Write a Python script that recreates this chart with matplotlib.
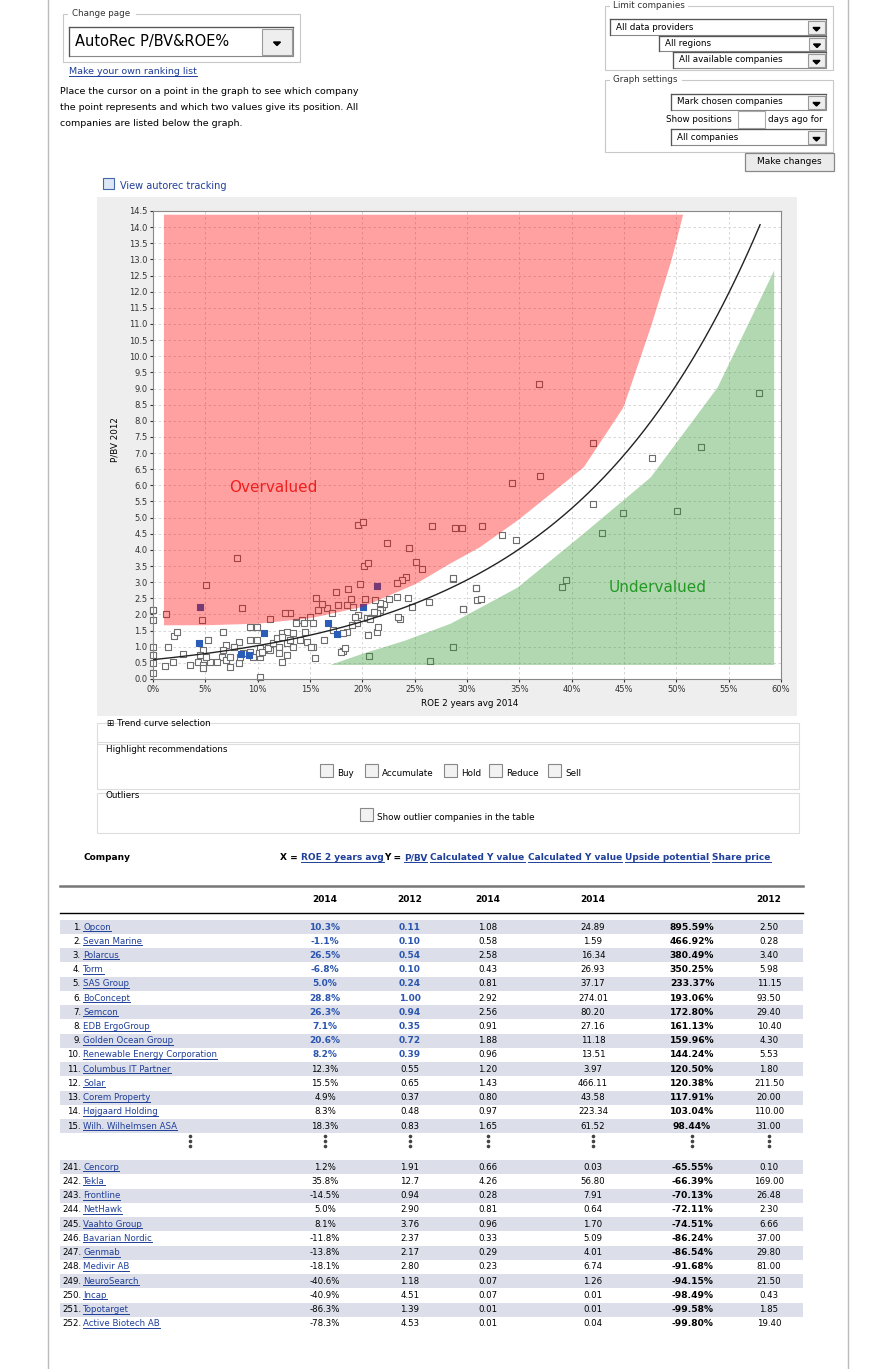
import numpy as np
import matplotlib
matplotlib.use("Agg")
import matplotlib.pyplot as plt
from matplotlib.patches import Rectangle, Polygon

# ---------------- data ----------------
gray_x = [21.9,21.7,21.4,21.1,20.4,20.7,19.6,19.3,19.5,19.0,18.5,18.2,17.2,16.3,15.8,16.6,17.1,17.7,18.5,19.1,
          15.0,15.3,14.5,14.2,13.7,13.1,12.6,11.2,12.3,12.8,13.4,14.0,14.7,15.3,13.4,12.8,12.0,12.0,12.8,11.2,
          10.5,10.2,9.9,9.3,9.6,9.3,9.9,8.2,7.7,7.0,6.7,6.6,6.1,5.4,4.8,4.5,4.3,4.8,4.8,5.1,7.0,7.4,8.2,8.3,8.6,
          9.3,9.6,10.2,10.1,10.4,11.0,11.5,7.4,3.5,2.9,1.9,1.4,2.0,2.3,1.1,5.3,6.7,15.1,15.5,18.2,18.0,18.3,20.6,
          20.5,21.4,21.5,23.6,23.4,22.1,21.7,21.2,20.3,10.2,12.3,0.0,0.0,0.0,0.0,0.0,0.0,13.7,14.4,11.8,12.3,13.1,
          19.6,20.1,26.7,22.4,24.5,25.1,25.7,20.2,20.5,8.0,5.1,8.5,1.2,4.7,19.8,18.6,17.5,15.6,16.1,18.9,24.2,23.8,
          23.3,23.3,24.4,22.5,28.7,26.4,24.7,29.6,30.9,31.0,36.9,42.0,37.0,34.3,28.9,29.5,31.4,33.3,34.7,42.0,47.7,
          52.4,57.9,44.9,50.1,42.9,39.5,39.1,28.7,30.9,31.3,29.6,28.7,26.5,0.0]
gray_y = [2.24,2.14,2.03,2.09,1.88,1.85,1.98,1.93,1.72,1.67,1.47,1.42,1.52,1.21,2.14,2.19,2.03,2.29,2.29,2.24,
          1.93,1.72,1.47,1.83,1.78,2.03,2.03,1.85,1.42,1.47,1.42,1.21,1.16,1.00,1.00,1.11,1.00,0.80,0.74,0.90,
          0.90,0.95,1.21,1.21,1.62,1.62,1.62,1.16,1.00,1.05,0.90,0.69,0.54,0.54,0.90,0.74,0.54,0.43,0.33,0.69,0.59,
          0.69,0.49,0.69,0.80,0.85,0.69,0.69,0.80,0.85,0.95,1.11,0.38,0.43,0.77,0.52,0.98,1.34,1.45,0.40,1.21,1.47,
          0.98,0.64,0.88,0.85,0.95,0.71,1.36,1.47,1.62,1.86,1.93,2.32,2.34,2.45,2.47,0.07,0.52,2.14,1.83,1.00,0.74,
          0.49,0.18,1.72,1.72,1.26,1.31,1.21,
          4.77,4.86,4.74,4.21,4.07,3.63,3.40,3.50,3.60,3.75,2.91,2.20,2.00,1.83,2.94,2.79,2.70,2.50,2.32,2.48,3.16,
          3.07,2.97,2.54,2.51,2.48,3.10,2.39,2.23,2.17,2.82,2.45,9.14,7.30,6.29,6.07,4.68,4.68,4.74,4.46,4.30,5.42,
          6.85,7.19,8.86,5.14,5.20,4.52,3.07,2.85,3.13,2.82,2.48,2.17,0.99,0.55,2.15]
blue_x = [4.4, 8.4, 9.2, 10.6, 16.7, 17.6, 20.1, 4.5, 21.4]
blue_y = [1.10, 0.78, 0.74, 1.42, 1.73, 1.39, 2.23, 2.23, 2.88]

trend_a, trend_b = 0.6, 0.0544
red_bx = [1, 5, 10, 15, 20, 25, 28.4, 31.2, 34.8, 41.1, 44.9, 47.5, 49.5, 50.6]
red_by = [1.68, 1.68, 1.73, 1.9, 2.25, 2.95, 3.6, 4.1, 4.93, 6.57, 8.43, 10.9, 13.0, 14.4]
green_bx = [16.9, 20, 24, 28.4, 34.8, 41.1, 47.5, 53.9, 59.3]
green_by = [0.45, 0.8, 1.2, 1.73, 2.85, 4.52, 6.26, 9.05, 12.67]

top_rank = list(range(1, 16))
top_name = ["Opcon","Sevan Marine","Polarcus","Torm","SAS Group","BoConcept","Semcon","EDB ErgoGroup",
            "Golden Ocean Group","Renewable Energy Corporation","Columbus IT Partner","Solar","Corem Property",
            "Højgaard Holding","Wilh. Wilhelmsen ASA"]
top_x = ["10.3%","-1.1%","26.5%","-6.8%","5.0%","28.8%","26.3%","7.1%","20.6%","8.2%","12.3%","15.5%","4.9%","8.3%","18.3%"]
top_y = ["0.11","0.10","0.54","0.10","0.24","1.00","0.94","0.35","0.72","0.39","0.55","0.65","0.37","0.48","0.83"]
top_c1 = ["1.08","0.58","2.58","0.43","0.81","2.92","2.56","0.91","1.88","0.96","1.20","1.43","0.80","0.97","1.65"]
top_c2 = ["24.89","1.59","16.34","26.93","37.17","274.01","80.20","27.16","11.18","13.51","3.97","466.11","43.58","223.34","61.52"]
top_up = ["895.59%","466.92%","380.49%","350.25%","233.37%","193.06%","172.80%","161.13%","159.96%","144.24%",
          "120.50%","120.38%","117.91%","103.04%","98.44%"]
top_pr = ["2.50","0.28","3.40","5.98","11.15","93.50","29.40","10.40","4.30","5.53","1.80","211.50","20.00","110.00","31.00"]

bot_rank = list(range(241, 253))
bot_name = ["Cencorp","Tekla","Frontline","NetHawk","Vaahto Group","Bavarian Nordic","Genmab","Medivir AB",
            "NeuroSearch","Incap","Topotarget","Active Biotech AB"]
bot_x = ["1.2%","35.8%","-14.5%","5.0%","8.1%","-11.8%","-13.8%","-18.1%","-40.6%","-40.9%","-86.3%","-78.3%"]
bot_y = ["1.91","12.7","0.94","2.90","3.76","2.37","2.17","2.80","1.18","4.51","1.39","4.53"]
bot_c1 = ["0.66","4.26","0.28","0.81","0.96","0.33","0.29","0.23","0.07","0.07","0.01","0.01"]
bot_c2 = ["0.03","56.80","7.91","0.64","1.70","5.09","4.01","6.74","1.26","0.01","0.01","0.04"]
bot_up = ["-65.55%","-66.39%","-70.13%","-72.11%","-74.51%","-86.24%","-86.54%","-91.68%","-94.15%","-98.49%","-99.58%","-99.80%"]
bot_pr = ["0.10","169.00","26.48","2.30","6.66","37.00","29.80","81.00","21.50","0.43","1.85","19.40"]

# ---------------- figure ----------------
W, H = 896, 1369
fig = plt.figure(figsize=(W/100, H/100), dpi=100)
fig.patch.set_facecolor("white")
ov = fig.add_axes([0, 0, 1, 1])
ov.set_xlim(0, W); ov.set_ylim(H, 0); ov.axis("off")

FONT = "DejaVu Sans"
LINK = "#1f3f99"
under = []

def T(x, y, s, size=6.5, color="black", ha="left", va="center", bold=False, link=False, **kw):
    t = ov.text(x, y, s, fontsize=size, color=color, ha=ha, va=va,
                fontweight="bold" if bold else "normal", family=FONT, **kw)
    if link:
        under.append((t, color))
    return t

def box(x0, y0, x1, y1, ec="#c8c8c8", fc="none", lw=0.8, z=1):
    ov.add_patch(Rectangle((x0, y0), x1-x0, y1-y0, ec=ec, fc=fc, lw=lw, zorder=z))

def dropdown(x0, y0, x1, y1, s, size=6.3):
    box(x0, y0, x1, y1, ec="#888888", fc="white")
    ov.plot([x0, x1], [y0, y0], color="#555555", lw=0.9)
    ov.plot([x0, x0], [y0, y1], color="#555555", lw=0.9)
    bw = (y1-y0)
    box(x1-bw-2, y0+1.5, x1-1.5, y1-1.5, ec="#999999", fc="#eeeeee")
    cx = x1 - bw/2 - 1.5; cy = (y0+y1)/2 + 2
    ov.add_patch(Polygon([[cx-3.5, cy-1.5], [cx+3.5, cy-1.5], [cx, cy+2]], color="black"))
    T(x0+6, (y0+y1)/2, s, size=size)

# page borders
ov.plot([48, 48], [0, H], color="#bbbbbb", lw=1)
ov.plot([848, 848], [0, H], color="#bbbbbb", lw=1)

# top left
box(63, 14, 300, 62)
ov.add_patch(Rectangle((68, 8), 68, 10, fc="white", ec="none", zorder=2))
T(72, 14, "Change page", size=6.3, color="#333333", zorder=3)
dropdown(69, 27, 293, 56, "AutoRec P/BV&ROE%", size=10.5)
T(69, 72, "Make your own ranking list", size=6.8, color=LINK, link=True)
T(60, 91, "Place the cursor on a point in the graph to see which company", size=6.8)
T(60, 107, "the point represents and which two values give its position. All", size=6.8)
T(60, 123, "companies are listed below the graph.", size=6.8)

# top right
box(605, 6, 833, 70)
ov.add_patch(Rectangle((610, 0), 78, 11, fc="white", ec="none", zorder=2))
T(613, 5, "Limit companies", size=6.3, color="#333333", zorder=3)
dropdown(610, 19, 826, 35, "All data providers")
dropdown(659, 36, 826, 51, "All regions")
dropdown(673, 52, 826, 68, "All available companies")
box(605, 80, 833, 152)
ov.add_patch(Rectangle((610, 74), 72, 11, fc="white", ec="none", zorder=2))
T(613, 80, "Graph settings", size=6.3, color="#333333", zorder=3)
dropdown(671, 94, 826, 110, "Mark chosen companies")
T(666, 119, "Show positions", size=6.3)
box(738, 111, 765, 128, ec="#aaaaaa", fc="white")
T(768, 119, "days ago for", size=6.3)
dropdown(671, 129, 826, 145, "All companies")
ov.add_patch(Rectangle((745, 153), 89, 18, fc="#ebebeb", ec="#888888", lw=0.9))
T(789.5, 162, "Make changes", size=6.5, ha="center")

# tracking link
box(103, 178, 114, 189, ec="#4466aa", fc="#dde6f5")
T(120, 186, "View autorec tracking", size=7, color=LINK)

# chart panel
ov.add_patch(Rectangle((97, 197), 700, 519, fc="#eeeeee", ec="none"))
T(115, 440, "P/BV 2012", size=6.3, rotation=90, ha="center")
T(470, 704, "ROE 2 years avg 2014", size=6.3, ha="center")

# controls below chart
box(97, 723, 799, 744, ec="#dddddd")
T(107, 724, "⊞ Trend curve selection", size=6.3)
box(97, 742, 799, 789, ec="#dddddd")
T(106, 750, "Highlight recommendations", size=6.3)
for bx_, lab in [(320, "Buy"), (365, "Accumulate"), (444, "Hold"), (489, "Reduce"), (548, "Sell")]:
    box(bx_, 764, bx_+13, 777, ec="#888888", fc="#f2f2f2")
    T(bx_+17, 773, lab, size=6.3)
box(97, 793, 799, 833, ec="#dddddd")
T(106, 795, "Outliers", size=6.3)
box(360, 808, 373, 821, ec="#888888", fc="#f2f2f2")
T(377, 818, "Show outlier companies in the table", size=6.3)

# table header
T(83, 858, "Company", size=6.5, bold=True)
hx = 280
parts = [("X = ", False), ("ROE 2 years avg", True), ("Y = ", False), ("P/BV", True), (" ", False),
         ("Calculated Y value", True), (" ", False), ("Calculated Y value", True), (" ", False),
         ("Upside potential", True), (" ", False), ("Share price", True)]
fig.canvas.draw()
r = fig.canvas.get_renderer()
for s, lk in parts:
    t = T(hx, 858, s, size=6.5, bold=True, color=LINK if lk else "black", link=lk)
    bb = t.get_window_extent(renderer=r)
    hx += bb.width

ov.plot([60, 803], [886, 886], color="#777777", lw=1.8)
ov.plot([60, 803], [913, 913], color="black", lw=1.0)
colx = [325, 410, 488, 593, 692, 769]
for cx, s in zip(colx, ["2014", "2012", "2014", "2014", "", "2012"]):
    T(cx, 900, s, size=6.5, bold=True, ha="center")

def rows(y0, step, ranks, names, xs, ys, c1, c2, up, pr, hl):
    for i in range(len(ranks)):
        y = y0 + i*step
        if i % 2 == 0:
            ov.add_patch(Rectangle((60, y-7), 743, 14, fc="#dcdfea", ec="none"))
        T(81, y, f"{ranks[i]}.", size=6.2, ha="right")
        T(83, y, names[i], size=6.2, color=LINK, link=True)
        b = hl and i < 10
        col = "#2a55b0" if b else "black"
        T(colx[0], y, xs[i], size=6.5 if b else 6.2, bold=b, color=col, ha="center")
        T(colx[1], y, ys[i], size=6.5 if b else 6.2, bold=b, color=col, ha="center")
        T(colx[2], y, c1[i], size=6.2, ha="center")
        T(colx[3], y, c2[i], size=6.2, ha="center")
        T(colx[4], y, up[i], size=6.6, bold=True, ha="center")
        T(colx[5], y, pr[i], size=6.2, ha="center")

rows(927, 14.22, top_rank, top_name, top_x, top_y, top_c1, top_c2, top_up, top_pr, True)
for cx in [190] + colx:
    for dy in (1136, 1141, 1146):
        ov.plot([cx], [dy], marker="o", ms=1.6, color="#444444")
rows(1167, 14.27, bot_rank, bot_name, bot_x, bot_y, bot_c1, bot_c2, bot_up, bot_pr, False)

# ---------------- chart ----------------
ax = fig.add_axes([153/W, 1-679/H, 628/W, 468/H])
ax.set_xlim(0, 60); ax.set_ylim(0, 14.5)
ax.set_facecolor("white")
ax.set_xticks(np.arange(0, 61, 5))
ax.set_xticklabels([f"{v}%" for v in range(0, 61, 5)], fontsize=6, family=FONT)
ax.set_yticks(np.arange(0, 14.51, 0.5))
ax.set_yticklabels([f"{v:.1f}" for v in np.arange(0, 14.51, 0.5)], fontsize=6, family=FONT)
ax.tick_params(length=2, pad=2, colors="#333333")
ax.grid(True, color="#d0d0d0", ls=(0, (3, 3)), lw=0.6)
ax.set_axisbelow(True)
for sp in ax.spines.values():
    sp.set_color("#888888")

ax.scatter(gray_x, gray_y, marker="s", s=18, facecolors="white", edgecolors="#6d6d6d", linewidths=0.8, zorder=2, clip_on=False)
ax.scatter(blue_x, blue_y, marker="s", s=18, facecolors="#2a5cb8", edgecolors="#2a5cb8", linewidths=0.8, zorder=2)

xr = np.linspace(1, 50.6, 300)
ax.fill_between(xr, np.interp(xr, red_bx, red_by), 14.4, color=(1, 0, 0), alpha=0.37, lw=0, zorder=3)
xg = np.linspace(16.9, 59.3, 300)
ax.fill_between(xg, 0.45, np.interp(xg, green_bx, green_by), color=(0.2, 0.6, 0.2), alpha=0.38, lw=0, zorder=3)

xt = np.linspace(0, 58, 300)
ax.plot(xt, trend_a*np.exp(trend_b*xt), color="#222222", lw=1.0, zorder=4)

ax.text(7.3, 5.8, "Overvalued", color="#ee2020", fontsize=11, family=FONT, zorder=5)
ax.text(43.5, 2.7, "Undervalued", color="#229922", fontsize=11, family=FONT, zorder=5)

# underlines for links
fig.canvas.draw()
inv = ov.transData.inverted()
for t, c in under:
    bb = t.get_window_extent(renderer=r)
    (x0, y0), (x1, y1) = inv.transform([(bb.x0, bb.y0), (bb.x1, bb.y1)])
    ov.plot([x0, x1], [y0 - 0.5, y0 - 0.5], color=c, lw=0.7)

fig.savefig("out.png", dpi=100, facecolor="white")
